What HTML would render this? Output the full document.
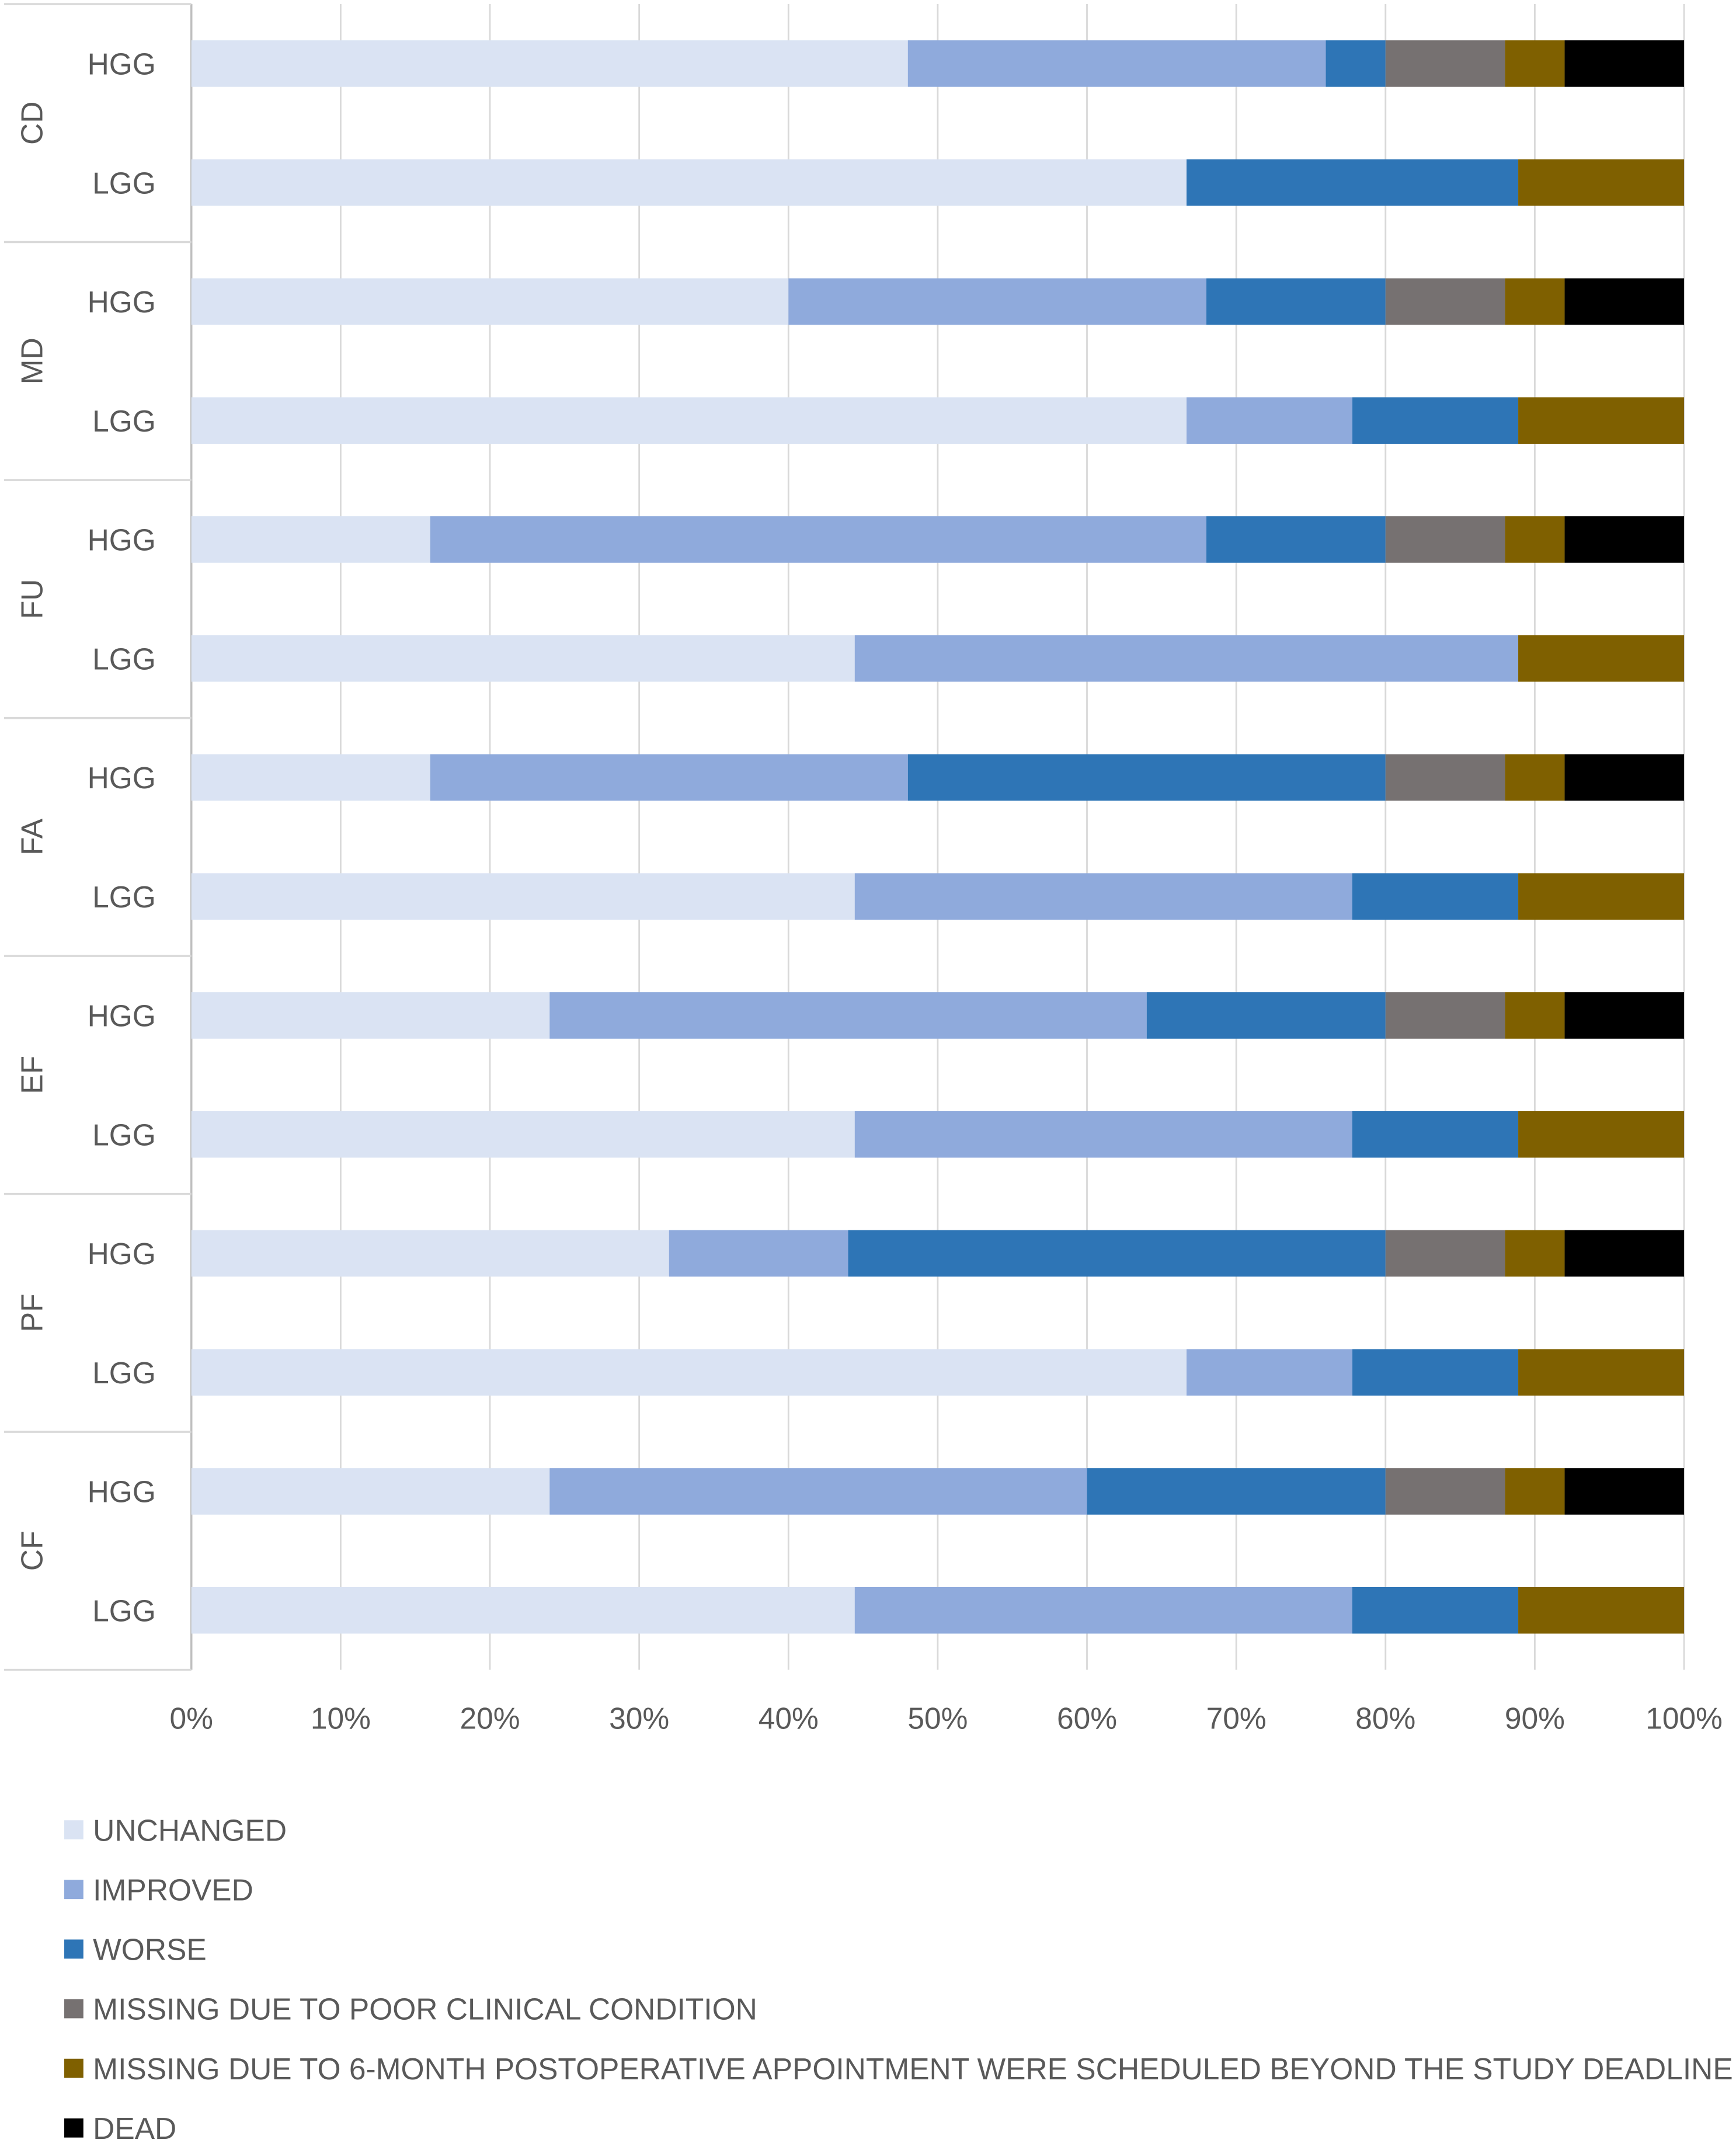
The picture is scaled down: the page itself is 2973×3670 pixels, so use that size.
<!DOCTYPE html>
<html><head><meta charset="utf-8"><style>
html,body{margin:0;padding:0;background:#fff;}
svg{display:block;}
text{font-family:"Liberation Sans",sans-serif;fill:#595959;}
</style></head><body>
<svg id="chart" width="2973" height="3670" viewBox="0 0 1270 1567" preserveAspectRatio="none" xmlns="http://www.w3.org/2000/svg"></svg>
<script>
const groups = ["CD","MD","FU","FA","EF","PF","CF"];
const subLabels = ["HGG","LGG"];
const seriesNames = ["UNCHANGED","IMPROVED","WORSE","MISSING DUE TO POOR CLINICAL CONDITION","MISSING DUE TO 6-MONTH POSTOPERATIVE APPOINTMENT WERE SCHEDULED BEYOND THE STUDY DEADLINE","DEAD"];
const unchanged = [48,66.67, 40,66.67, 16,44.44, 16,44.44, 24,44.44, 32,66.67, 24,44.44];
const improved  = [28,0, 28,11.11, 52,44.45, 32,33.33, 40,33.33, 12,11.11, 36,33.33];
const worse     = [4,22.22, 12,11.11, 12,0, 32,11.12, 16,11.12, 36,11.11, 20,11.12];
const missingPoor = [8,0, 8,0, 8,0, 8,0, 8,0, 8,0, 8,0];
const missingSched = [4,11.11, 4,11.11, 4,11.11, 4,11.11, 4,11.11, 4,11.11, 4,11.11];
const dead = [8,0, 8,0, 8,0, 8,0, 8,0, 8,0, 8,0];
const tickLabels = ["0%","10%","20%","30%","40%","50%","60%","70%","80%","90%","100%"];
const colors = ["#DAE3F3","#8FAADC","#2E75B6","#767171","#7F6000","#000000"];

const svg = document.getElementById('chart');
const NS = "http://www.w3.org/2000/svg";
function el(tag, attrs){const e=document.createElementNS(NS,tag);for(const k in attrs)e.setAttribute(k,attrs[k]);svg.appendChild(e);return e;}
const x0=140, x1=1232, plotTop=3, groupH=174.0;
const xs = v => x0 + (x1-x0)*v/100;
const series=[unchanged,improved,worse,missingPoor,missingSched,dead];

tickLabels.forEach((t,i)=>{
  const g=el('line',{x1:xs(i*10),x2:xs(i*10),y1:plotTop,y2:plotTop+groupH*7,stroke:'#d9d9d9','stroke-width':1.2});
  
  
  const tx=el('text',{x:xs(i*10),y:1264,'font-size':22,'text-anchor':'middle'});
  tx.textContent=t;
  
  
});
const ax=el('line',{x1:x0,x2:x0,y1:plotTop,y2:plotTop+groupH*7,stroke:'#bfbfbf','stroke-width':1.5});


for(let g=0;g<=7;g++){
  const l=el('line',{x1:3,x2:x0,y1:plotTop+g*groupH,y2:plotTop+g*groupH,stroke:'#d9d9d9','stroke-width':1.5});
  
  
}
groups.forEach((gname,g)=>{
  const gy=plotTop+g*groupH;
  const gt=el('text',{x:0,y:0,'font-size':22,'text-anchor':'middle',transform:`translate(31,${gy+groupH/2}) rotate(-90)`});
  gt.textContent=gname;
  
  
  subLabels.forEach((s,si)=>{
    const cy=gy+43.5+si*87;
    const st=el('text',{x:114,y:cy+8,'font-size':22,'text-anchor':'end'});
    st.textContent=s;
    
    
    const idx=g*2+si;
    let acc=0;
    series.forEach((arr,k)=>{
      const v=arr[idx];
      if(v>0){
        const r=el('rect',{x:xs(acc),y:cy-17,width:xs(acc+v)-xs(acc),height:34,fill:colors[k]});
        
        
      }
      acc+=v;
    });
  });
});
seriesNames.forEach((n,i)=>{
  const y=1338+i*43.6;
  const r=el('rect',{x:47,y:y-7,width:14,height:14,fill:colors[i]});
  
  
  const t=el('text',{x:68,y:y+8,'font-size':22});
  t.textContent=n;
  
  
});
</script>
</body></html>
